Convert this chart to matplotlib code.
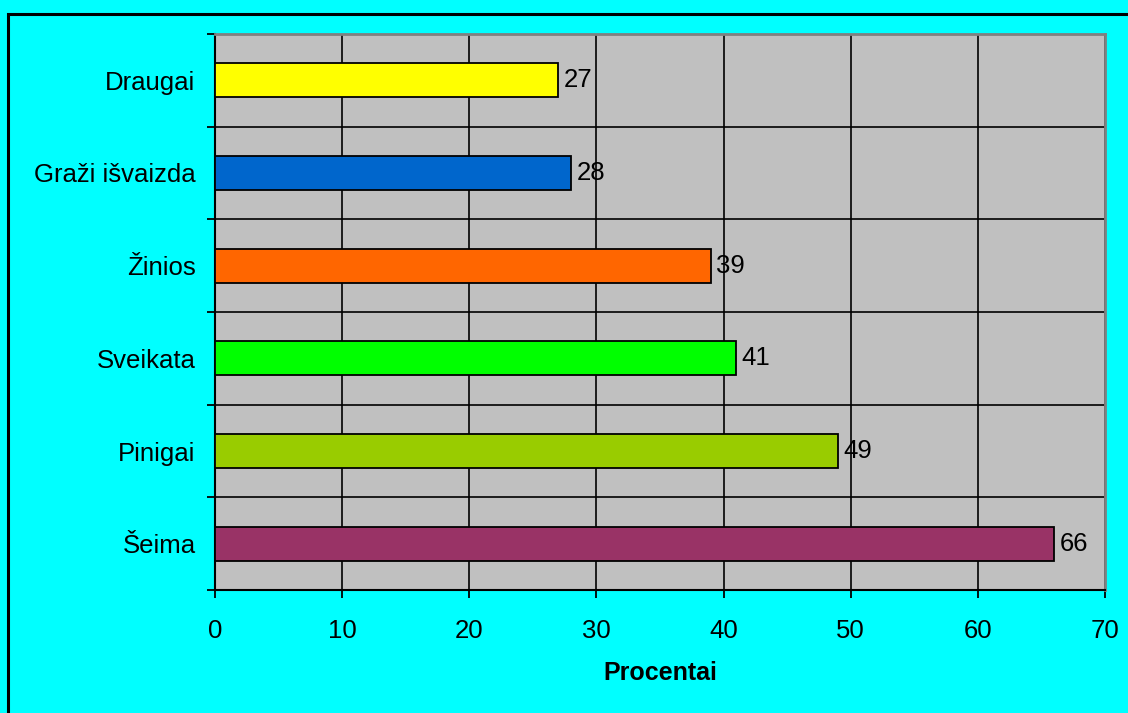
import matplotlib
matplotlib.use("Agg")
import matplotlib.pyplot as plt
from matplotlib.patches import Rectangle

categories = ["Šeima", "Pinigai", "Sveikata", "Žinios", "Graži išvaizda", "Draugai"]
values = [66, 49, 41, 39, 28, 27]
colors = ["#993366", "#99CC00", "#00FF00", "#FF6600", "#0066CC", "#FFFF00"]
x_ticks = [0, 10, 20, 30, 40, 50, 60, 70]
x_label = "Procentai"

plt.rcParams["font.family"] = ["Liberation Sans", "DejaVu Sans"]
FS = 18.5

W, H = 1128, 713
fig = plt.figure(figsize=(W / 100, H / 100), dpi=100)
fig.patch.set_facecolor("#00FFFF")

# outer frame (top and left edges visible)
fig.add_artist(Rectangle((8 / W, -0.1), 1.2, (H - 14) / H + 0.1, transform=fig.transFigure,
                         fill=False, edgecolor="black", linewidth=2.2))

ax = fig.add_axes([215 / W, (H - 590) / H, 890 / W, 556 / H])
ax.set_facecolor("#C0C0C0")

ypos = list(range(len(categories)))
bars = ax.barh(ypos, values, height=0.37, color=colors, edgecolor="black",
               linewidth=1.3, zorder=3)

for b, v in zip(bars, values):
    ax.annotate(f"{v}", (b.get_width(), b.get_y() + b.get_height() / 2),
                xytext=(4, 0), textcoords="offset points", va="center", ha="left",
                fontsize=FS, zorder=4)

ax.set_xlim(0, 70)
ax.set_ylim(-0.5, len(categories) - 0.5)
ax.set_xticks(x_ticks)
ax.set_xticklabels([str(t) for t in x_ticks], fontsize=FS)

# category labels at bar centres, tick marks at category boundaries
ax.set_yticks(ypos)
ax.set_yticklabels(categories, fontsize=FS)
ax.tick_params(axis="y", which="major", length=0, pad=14)
ax.set_yticks([i - 0.5 for i in range(len(categories) + 1)], minor=True)
ax.tick_params(axis="y", which="minor", length=6, width=1.3, direction="out", color="black")
ax.tick_params(axis="x", which="major", length=6, width=1.3, direction="out", pad=15)

ax.grid(True, axis="x", which="major", color="black", linewidth=1.2, zorder=1)
ax.grid(True, axis="y", which="minor", color="black", linewidth=1.2, zorder=1)
ax.set_axisbelow(True)

for side in ("left", "bottom"):
    ax.spines[side].set_color("black")
    ax.spines[side].set_linewidth(1.5)
for side in ("top", "right"):
    ax.spines[side].set_color("#808080")
    ax.spines[side].set_linewidth(2.0)

ax.set_xlabel(x_label, fontsize=18, fontweight="bold", labelpad=13)

fig.savefig("out.png", dpi=100, facecolor=fig.get_facecolor())
